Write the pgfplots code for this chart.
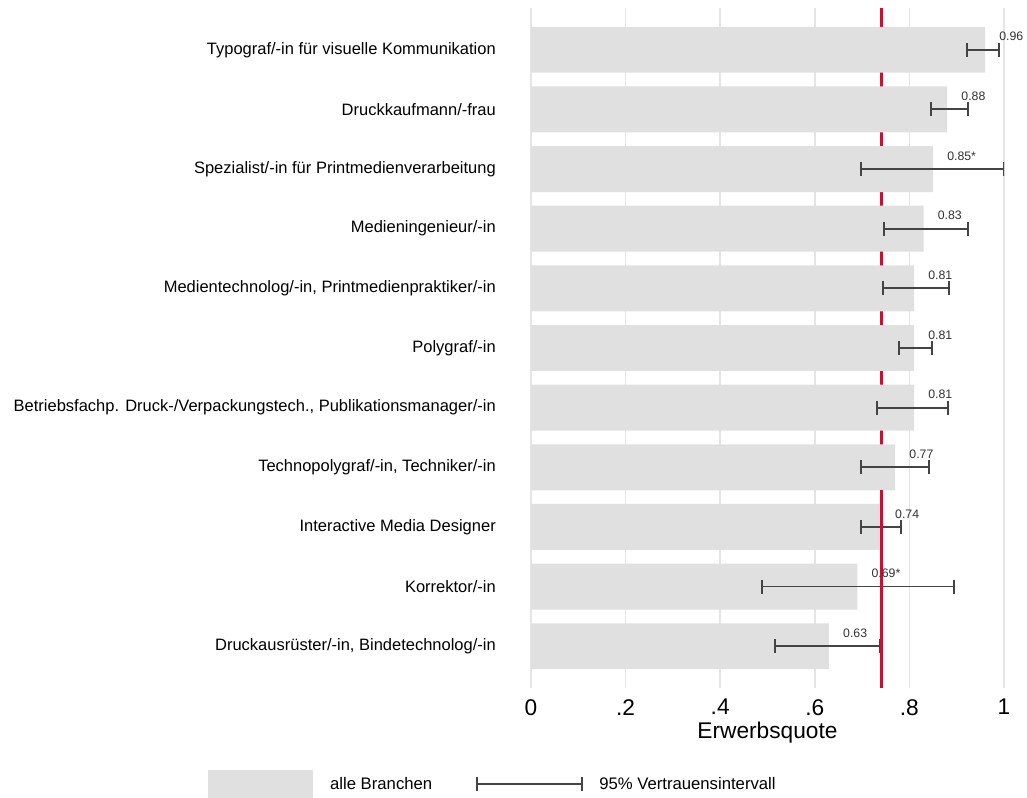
\documentclass[border=0pt]{standalone}
\usepackage{fontspec}
\setmainfont{Liberation Sans}
\usepackage{pgfplots}
\pgfplotsset{compat=1.18}
\usepackage{pgfplotstable}

\definecolor{barfill}{RGB}{224,224,224}
\definecolor{gridc}{RGB}{229,229,229}
\definecolor{refred}{RGB}{200,16,50}
\definecolor{cic}{RGB}{68,68,68}
\definecolor{labc}{RGB}{50,50,50}

% idx: position from bottom; val: employment rate; lo/hi: 95% CI
\pgfplotstableread{
idx val  lo    hi    lab
10  0.96 0.922 0.989 0.96
9   0.88 0.846 0.924 0.88
8   0.85 0.698 1.000 0.85*
7   0.83 0.746 0.924 0.83
6   0.81 0.744 0.884 0.81
5   0.81 0.778 0.848 0.81
4   0.81 0.731 0.882 0.81
3   0.77 0.698 0.841 0.77
2   0.74 0.698 0.782 0.74
1   0.69 0.488 0.894 0.69*
0   0.63 0.516 0.738 0.63
}\data

\begin{document}
\begin{tikzpicture}
\useasboundingbox (0,0) rectangle (1027bp,798bp);
\begin{axis}[
  at={(531bp,110bp)}, anchor=south west,
  width=473bp, height=680bp, scale only axis,
  xmin=0, xmax=1, ymin=-0.7, ymax=10.7,
  axis line style={draw=none},
  major tick length=0pt,
  xtick={0,0.2,0.4,0.6,0.8,1},
  xticklabels={0,.2,.4,.6,.8,1},
  xmajorgrids,
  major grid style={color=gridc, line width=1.5bp},
  ytick={0,...,10},
  yticklabels={
    {Druckausrüster/-in, Bindetechnolog/-in},
    Korrektor/-in,
    Interactive Media Designer,
    {Technopolygraf/-in, Techniker/-in},
    {Betriebsfachp. Druck-/Verpackungstech., Publikationsmanager/-in},
    Polygraf/-in,
    {Medientechnolog/-in, Printmedienpraktiker/-in},
    Medieningenieur/-in,
    Spezialist/-in für Printmedienverarbeitung,
    Druckkaufmann/-frau,
    Typograf/-in für visuelle Kommunikation},
  /pgf/number format/assume math mode=true,
  xticklabel style={font=\fontsize{22.7bp}{26bp}\selectfont, anchor=north, inner sep=0pt, yshift=-11bp},
  yticklabel style={font=\fontsize{16.5bp}{20bp}\selectfont, anchor=east, inner sep=0pt, xshift=-35bp},
  xlabel={Erwerbsquote},
  xlabel style={font=\fontsize{22.7bp}{26bp}\selectfont, at={(axis description cs:0.5,0)}, anchor=north, inner sep=0pt, yshift=-34bp},
  legend columns=2,
  legend style={draw=none, fill=none, inner sep=0pt,
    at={(axis description cs:-0.683,-0.1412)}, anchor=west,
    font=\fontsize{16.7bp}{20bp}\selectfont,
    nodes={inner sep=0pt},
    /tikz/every even column/.append style={column sep=44bp}},
]
% reference line for all sectors, behind the bars
\addplot[refred, line width=3bp, forget plot] coordinates {(0.742,-0.7) (0.742,10.7)};

% bars with value labels
\addplot[xbar, bar width=0.77, fill=barfill, draw=none,
  nodes near coords, point meta=explicit symbolic,
  nodes near coords style={anchor=west, inner sep=0pt, xshift=14bp, yshift=13bp,
    font=\fontsize{12.3bp}{14bp}\selectfont, text=labc},
  legend image code/.code={\fill[barfill] (0bp,-14bp) rectangle (105bp,14bp); \path (122bp,0bp);}]
  table[x=val, y=idx, meta=lab] {\data};
\addlegendentry{alle Branchen}

% confidence intervals
\addplot[draw=none, mark=none,
  error bars/.cd, x dir=both, x explicit,
  error bar style={draw=cic, line width=1.8bp},
  error mark=|, error mark options={draw=cic, line width=2bp, mark size=7bp, rotate=0},
  /pgfplots/legend image code/.code={
    \draw[cic, line width=1.8bp] (0bp,0bp) -- (105bp,0bp);
    \draw[cic, line width=2bp] (0bp,-7bp) -- (0bp,7bp);
    \draw[cic, line width=2bp] (105bp,-7bp) -- (105bp,7bp);
    \path (122bp,0bp);}]
  table[x=val, y=idx,
    x error plus expr=\thisrow{hi}-\thisrow{val},
    x error minus expr=\thisrow{val}-\thisrow{lo}] {\data};
\addlegendentry{95\% Vertrauensintervall}

% reference line over the intervals where no bar covers it
\addplot[refred, line width=3bp, forget plot] coordinates {(0.742,-0.7) (0.742,2.615)};
\end{axis}
\end{tikzpicture}
\end{document}
